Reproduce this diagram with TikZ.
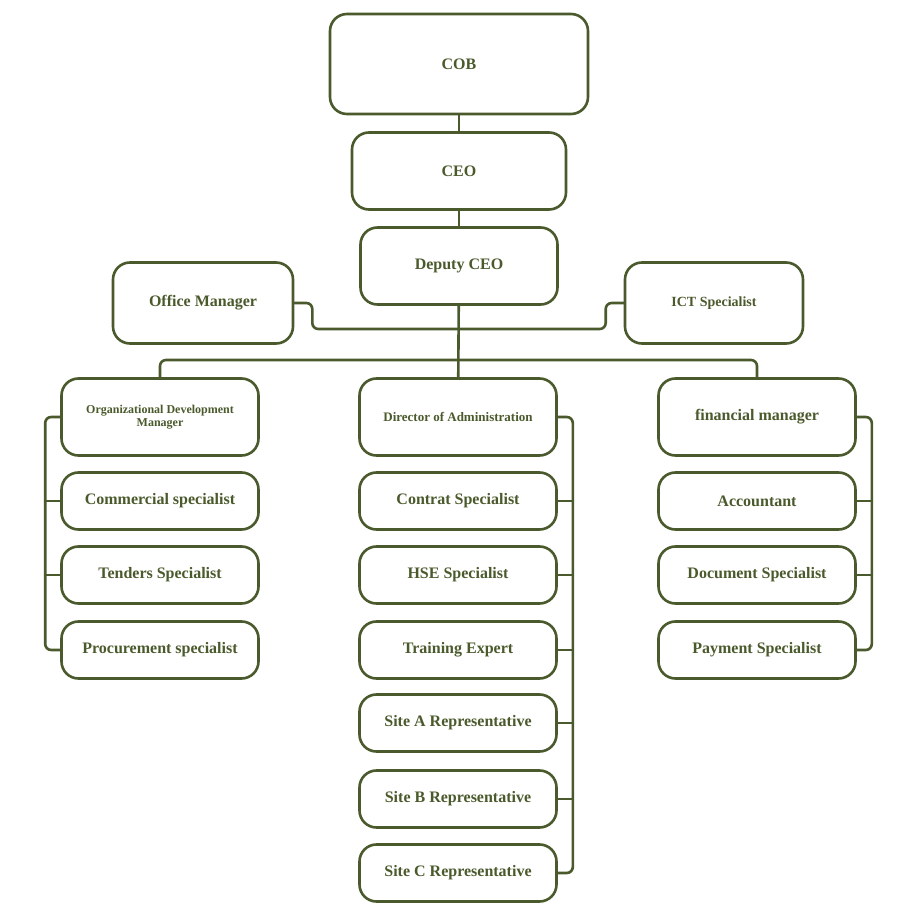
\documentclass[tikz,border=0pt]{standalone}
\usepackage{fontspec}
\setmainfont{Liberation Serif}
\usetikzlibrary{positioning}
\definecolor{olive}{HTML}{4B5A2C}
\tikzset{
  box/.style={draw=olive,line width=2.6pt,rounded corners=17pt,fill=white,
    text=olive,font=\bfseries\fontsize{16}{18}\selectfont,align=center,
    minimum width=197pt,minimum height=57pt,inner sep=2pt},
  big/.style={box,minimum height=77pt},
  link/.style={draw=olive,line width=2.6pt,rounded corners=6pt}
}
\begin{document}
\begin{tikzpicture}[x=1pt,y=-1pt,line cap=round,line join=round]
\useasboundingbox[fill=white] (0,0) rectangle (922,904);
% top of the chart
\node[big,minimum width=258pt,minimum height=100pt] (cob) at (459,64) {COB};
\node[big,minimum width=214pt] (ceo) at (459,171) {CEO};
\node[big] (dep) at (459,266) {Deputy CEO};
\node[big,minimum width=180pt,minimum height=81pt] (off) at (203,303) {Office Manager};
\node[big,minimum width=178pt,minimum height=81pt,font=\bfseries\fontsize{14}{16}\selectfont] (ict) at (714,303) {ICT Specialist};
% heads of the three columns
\node[big,font=\bfseries\fontsize{12}{13}\selectfont] (org) at (160,417) {Organizational Development\\Manager};
\node[big,font=\bfseries\fontsize{13}{15}\selectfont] (dir) at (458,417) {Director of Administration};
\node[big] (fin) at (757,417) {financial manager};
% left column
\node[box] (com) at (160,501) {Commercial specialist};
\node[box] (ten) at (160,575) {Tenders Specialist};
\node[box] (pro) at (160,650) {Procurement specialist};
% middle column
\node[box] (con) at (458,501) {Contrat Specialist};
\node[box] (hse) at (458,575) {HSE Specialist};
\node[box] (tra) at (458,650) {Training Expert};
\node[box] (sta) at (458,723) {Site A Representative};
\node[box] (stb) at (458,799) {Site B Representative};
\node[box] (stc) at (458,873) {Site C Representative};
% right column
\node[box] (acc) at (757,501) {Accountant};
\node[box] (doc) at (757,575) {Document Specialist};
\node[box] (pay) at (757,650) {Payment Specialist};
% connectors
\begin{scope}[on background layer/.style={}]
\draw[link] (cob) -- (ceo);
\draw[link] (ceo) -- (dep);
\draw[link] (dep) -- (dir);
\draw[link] (off.east) -- ++(18,0) |- (459,329) -| ([xshift=-18pt]ict.west) -- (ict.west);
\draw[link] (org.north) |- (459,360) -| (fin.north);
\draw[link] (org.west) -- ++(-15,0) |- (pro.west);
\foreach \n in {com,ten} \draw[link] (\n.west) -- ++(-15,0);
\draw[link] (dir.east) -- ++(15,0) |- (stc.east);
\foreach \n in {con,hse,tra,sta,stb} \draw[link] (\n.east) -- ++(15,0);
\draw[link] (fin.east) -- ++(15,0) |- (pay.east);
\foreach \n in {acc,doc} \draw[link] (\n.east) -- ++(15,0);
\end{scope}
\end{tikzpicture}
\end{document}
